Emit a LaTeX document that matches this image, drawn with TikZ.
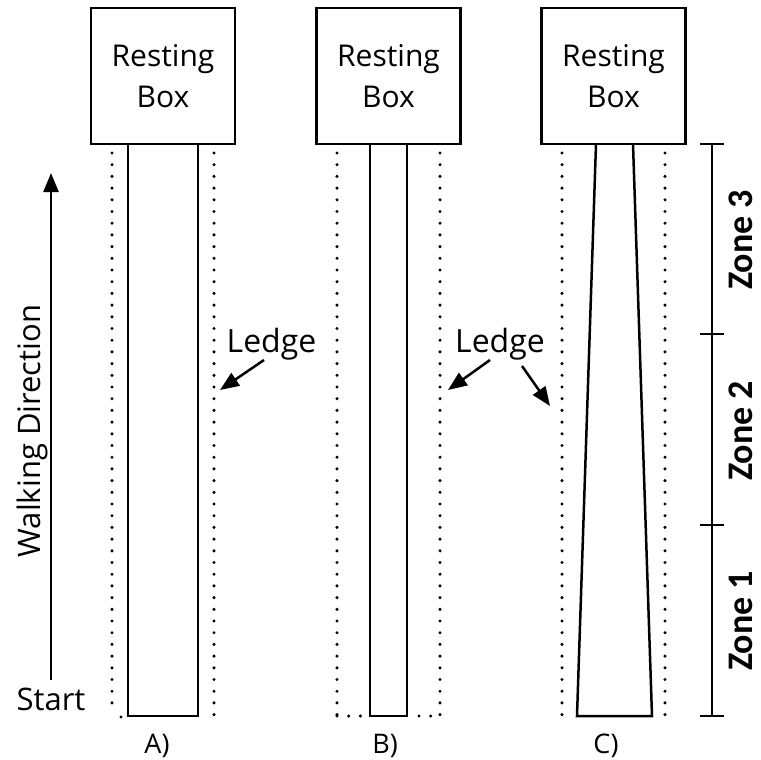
\documentclass[tikz,border=0pt]{standalone}
\usepackage{fontspec}
\setmainfont{Open Sans}
\newfontfamily\zonefont{Carlito}
\usetikzlibrary{arrows.meta}
\tikzset{
  wall/.style={draw=black, line width=2.5pt},
  ledge/.style={draw=black, line width=3.4pt, dash pattern=on 0pt off 11.7pt, line cap=round},
  restbox/.style={draw=black, line width=2.8pt, minimum width=144pt, minimum height=136pt, inner sep=0pt, align=center, font=\fontsize{30}{41}\selectfont},
  lbl/.style={inner sep=0pt},
  zonelbl/.style={font=\zonefont\bfseries\fontsize{36}{40}\selectfont, rotate=90, inner sep=0pt, anchor=base},
  ptr/.style={draw=black, line width=2.5pt, -{Triangle[length=19pt,width=15pt]}},
}
\begin{document}
\begin{tikzpicture}[x=1pt,y=-1pt]
\useasboundingbox (0,0) rectangle (761,760);
% resting boxes
\node[restbox] (boxA) at (163,76) {Resting\\Box};
\node[restbox] (boxB) at (388.5,76) {Resting\\Box};
\node[restbox] (boxC) at (613.5,76) {Resting\\Box};
% track A
\coordinate (a1) at (128,144); \coordinate (a2) at (128,716);
\coordinate (a3) at (198,716); \coordinate (a4) at (198,144);
\draw[wall] (a1) -- (a2) -- (a3) -- (a4);
\coordinate (al1) at (112,153); \coordinate (al2) at (112,714);
\coordinate (ar1) at (214,153); \coordinate (ar2) at (214,716);
\draw[ledge] (al1) -- (al2);
\draw[ledge] (121,717) -- (121,717.01);
\draw[ledge] (ar1) -- (ar2);
% track B
\coordinate (b1) at (370,144); \coordinate (b2) at (370,716);
\coordinate (b3) at (407,716); \coordinate (b4) at (407,144);
\draw[wall] (b1) -- (b2) -- (b3) -- (b4);
\coordinate (bl1) at (337,153); \coordinate (bl2) at (337,716);
\coordinate (br1) at (440,153); \coordinate (br2) at (440,716);
\draw[ledge] (bl1) -- (bl2);
\draw[ledge] (br1) -- (br2);
\draw[ledge] (bl2) -- (b2);
\draw[ledge] (b3) ++(12,0) -- (br2);
% track C
\coordinate (c1) at (596,144); \coordinate (c2) at (577,716);
\coordinate (c3) at (652,716); \coordinate (c4) at (633,144);
\draw[wall] (c1) -- (c2) -- (c3) -- (c4);
\coordinate (cl1) at (562,153); \coordinate (cl2) at (562,716);
\coordinate (cr1) at (665,153); \coordinate (cr2) at (665,716);
\draw[ledge] (cl1) -- (cl2);
\draw[ledge] (cr1) -- (cr2);
% zone ruler
\coordinate (z0) at (712,144); \coordinate (z1) at (712,334);
\coordinate (z2) at (712,525); \coordinate (z3) at (712,716);
\draw[wall] (z0) -- (z3);
\foreach \z in {z0,z1,z2,z3} \draw[wall] ([xshift=-12pt]\z) -- ([xshift=12pt]\z);
\node[zonelbl] (zone3) at (752,240) {Zone 3};
\node[zonelbl] (zone2) at (752,431) {Zone 2};
\node[zonelbl] (zone1) at (752,621) {Zone 1};
% walking direction
\coordinate (w0) at (51,680); \coordinate (w1) at (51,173);
\draw[ptr] (w0) -- (w1);
\node[lbl, rotate=90, anchor=base, font=\fontsize{31}{34}\selectfont] (walk) at (40,431) {Walking Direction};
\node[lbl, anchor=base, font=\fontsize{31}{34}\selectfont] (start) at (51,710) {Start};
% ledge labels
\node[lbl, anchor=base, font=\fontsize{32}{34}\selectfont] (ledgeA) at (271.5,352) {Ledge};
\node[lbl, anchor=base, font=\fontsize{32}{34}\selectfont] (ledgeB) at (500,352) {Ledge};
\coordinate (pA) at (220,390); \coordinate (pB) at (448,390); \coordinate (pC) at (550,406);
\draw[ptr] (264,360) -- (pA);
\draw[ptr] (490,360) -- (pB);
\draw[ptr] (522,366) -- (pC);
% bottom labels
\node[lbl, anchor=base, font=\fontsize{27}{30}\selectfont] (labA) at (157,753) {A)};
\node[lbl, anchor=base, font=\fontsize{27}{30}\selectfont] (labB) at (385,753) {B)};
\node[lbl, anchor=base, font=\fontsize{27}{30}\selectfont] (labC) at (606,753) {C)};
\end{tikzpicture}
\end{document}
